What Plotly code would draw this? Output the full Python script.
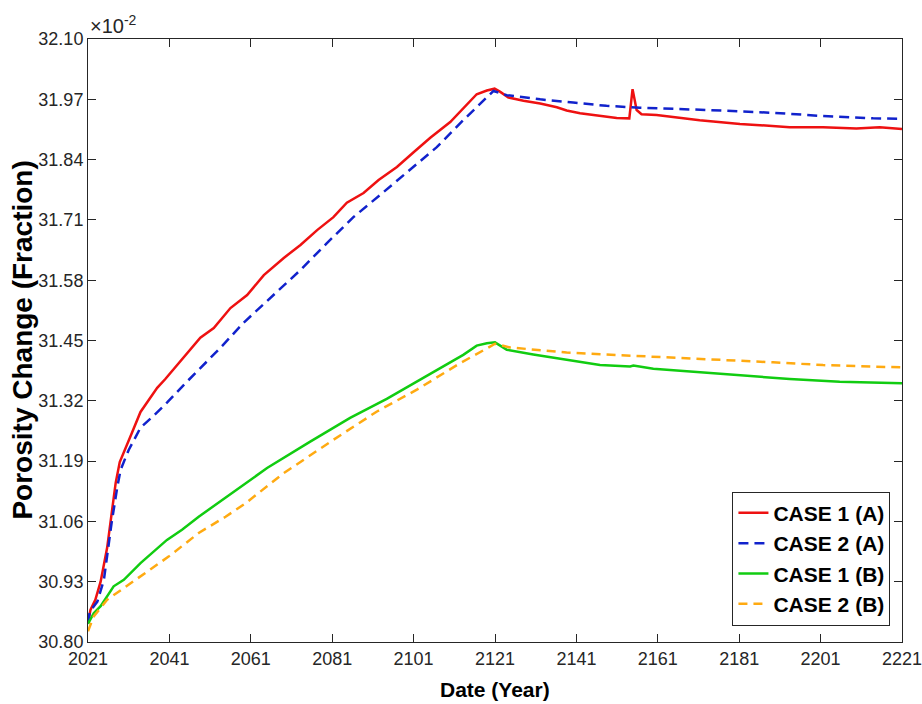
import plotly.graph_objects as go

# CASE 1 (A)
years_c1a = [2021.0, 2021.6, 2022.8, 2024.1, 2025.7, 2026.8, 2027.8, 2028.8, 2030.2, 2031.8,
             2033.9, 2035.9, 2038.0, 2040.0, 2046.2, 2048.6, 2051.9, 2056.0, 2060.1, 2064.2,
             2069.1, 2073.2, 2077.3, 2081.3, 2084.6, 2088.7, 2092.4, 2096.9, 2101.0, 2105.1,
             2110.0, 2114.1, 2116.5, 2119.0, 2120.9, 2122.3, 2124.3, 2128.0, 2132.1, 2136.2,
             2138.6, 2141.9, 2146.8, 2150.9, 2154.0, 2154.8, 2155.8, 2157.0, 2160.7, 2166.4,
             2171.3, 2181.2, 2193.4, 2201.6, 2209.8, 2215.5, 2221.0]
poro_c1a = [30.841, 30.869, 30.891, 30.930, 31.003, 31.078, 31.143, 31.188, 31.219, 31.251,
            31.296, 31.322, 31.348, 31.367, 31.430, 31.456, 31.477, 31.520, 31.548, 31.591,
            31.628, 31.656, 31.688, 31.716, 31.747, 31.768, 31.796, 31.824, 31.856, 31.887,
            31.921, 31.958, 31.981, 31.989, 31.993, 31.986, 31.974, 31.967, 31.961, 31.953,
            31.946, 31.940, 31.934, 31.930, 31.929, 31.992, 31.947, 31.938, 31.936, 31.930,
            31.925, 31.917, 31.910, 31.910, 31.907, 31.910, 31.906]

# CASE 2 (A)
years_c2a = [2021.0, 2021.4, 2022.0, 2023.3, 2024.9, 2026.8, 2028.2, 2029.0, 2031.0, 2033.9,
             2036.8, 2040.4, 2044.5, 2049.4, 2053.5, 2059.2, 2066.6, 2073.2, 2079.7, 2086.2,
             2092.8, 2100.2, 2106.7, 2113.2, 2118.2, 2120.6, 2123.9, 2132.1, 2140.2, 2148.4,
             2156.6, 2164.8, 2173.0, 2189.3, 2201.6, 2213.9, 2221.0]
poro_c2a = [30.841, 30.863, 30.872, 30.887, 30.934, 31.057, 31.134, 31.171, 31.214, 31.262,
            31.285, 31.316, 31.354, 31.397, 31.434, 31.488, 31.548, 31.602, 31.660, 31.716,
            31.764, 31.818, 31.867, 31.925, 31.969, 31.988, 31.979, 31.970, 31.963, 31.956,
            31.952, 31.950, 31.947, 31.941, 31.934, 31.929, 31.928]

# CASE 1 (B)
years_c1b = [2021.0, 2021.4, 2022.4, 2024.1, 2027.3, 2029.8, 2033.9, 2040.4, 2044.1, 2048.2,
             2055.6, 2065.0, 2075.6, 2085.4, 2094.4, 2101.8, 2107.5, 2113.2, 2116.5, 2119.0,
             2121.0, 2123.9, 2130.4, 2138.6, 2146.8, 2154.2, 2155.0, 2159.9, 2171.3, 2181.2,
             2193.4, 2205.7, 2215.5, 2221.0]
poro_c1b = [30.839, 30.846, 30.862, 30.877, 30.920, 30.934, 30.970, 31.020, 31.042, 31.070,
            31.117, 31.175, 31.232, 31.283, 31.324, 31.361, 31.390, 31.419, 31.439, 31.444,
            31.446, 31.430, 31.420, 31.408, 31.397, 31.394, 31.396, 31.389, 31.381, 31.374,
            31.367, 31.361, 31.360, 31.358]

# CASE 2 (B)
years_c2b = [2021.0, 2022.4, 2025.7, 2033.1, 2040.8, 2048.2, 2054.8, 2059.7, 2069.1, 2081.3,
             2092.0, 2101.8, 2112.4, 2119.0, 2121.0, 2124.7, 2138.6, 2155.0, 2173.0, 2189.3,
             2201.6, 2213.9, 2221.0]
poro_c2b = [30.823, 30.855, 30.891, 30.936, 30.984, 31.035, 31.070, 31.099, 31.164, 31.236,
            31.297, 31.344, 31.401, 31.433, 31.443, 31.435, 31.424, 31.417, 31.410, 31.403,
            31.397, 31.394, 31.392]

x_ticks = [2021, 2041, 2061, 2081, 2101, 2121, 2141, 2161, 2181, 2201, 2221]
y_ticks = [30.80, 30.93, 31.06, 31.19, 31.32, 31.45, 31.58, 31.71, 31.84, 31.97, 32.10]
y_tick_text = ["%.2f" % v for v in y_ticks]

FONT = "Liberation Sans, Arial, sans-serif"

fig = go.Figure()
fig.add_trace(go.Scatter(x=years_c1a, y=poro_c1a, mode="lines", name="<b>CASE 1 (A)</b>",
                         line=dict(color="#ee1111", width=2.5)))
fig.add_trace(go.Scatter(x=years_c2a, y=poro_c2a, mode="lines", name="<b>CASE 2 (A)</b>",
                         line=dict(color="#1122cc", width=2.5, dash="10px,6px")))
fig.add_trace(go.Scatter(x=years_c1b, y=poro_c1b, mode="lines", name="<b>CASE 1 (B)</b>",
                         line=dict(color="#11cc11", width=2.5)))
fig.add_trace(go.Scatter(x=years_c2b, y=poro_c2b, mode="lines", name="<b>CASE 2 (B)</b>",
                         line=dict(color="#ffaa11", width=2.5, dash="9px,6px")))

axis_common = dict(
    showline=True, linecolor="#262626", linewidth=1, mirror="allticks",
    ticks="inside", ticklen=8, tickcolor="#262626", tickwidth=1,
    showgrid=False, zeroline=False, ticklabeloverflow="allow", automargin=False,
    tickfont=dict(family=FONT, size=18, color="#262626"),
)

fig.update_layout(
    width=922, height=704,
    margin=dict(l=88, r=20, t=39, b=62),
    paper_bgcolor="white", plot_bgcolor="white",
    xaxis=dict(range=[2020.999, 2221.001], tickvals=x_ticks,
               ticktext=[str(v) for v in x_ticks], **axis_common),
    yaxis=dict(range=[30.7999, 32.1001], tickvals=y_ticks, ticktext=y_tick_text,
               **axis_common),
    showlegend=True,
    legend=dict(x=0.9858, y=0.027, xanchor="right", yanchor="bottom",
                bgcolor="white", bordercolor="#262626", borderwidth=1,
                font=dict(family=FONT, size=21, color="black"),
                tracegroupgap=0, itemwidth=30),
    annotations=[
        dict(text="×10<sup>-2</sup>", xref="paper", yref="paper", x=0, y=1,
             xanchor="left", yanchor="bottom", showarrow=False,
             font=dict(family=FONT, size=20, color="#262626")),
        dict(text="<b>Date (Year)</b>", xref="paper", yref="paper", x=0.5, y=-0.0796,
             xanchor="center", yanchor="middle", showarrow=False,
             font=dict(family=FONT, size=21, color="black")),
        dict(text="<b>Porosity Change (Fraction)</b>", xref="paper", yref="paper",
             x=-0.081, y=0.5, xanchor="center", yanchor="middle", textangle=-90,
             showarrow=False,
             font=dict(family=FONT, size=28, color="black")),
    ],
)

fig.write_html("out.html")
